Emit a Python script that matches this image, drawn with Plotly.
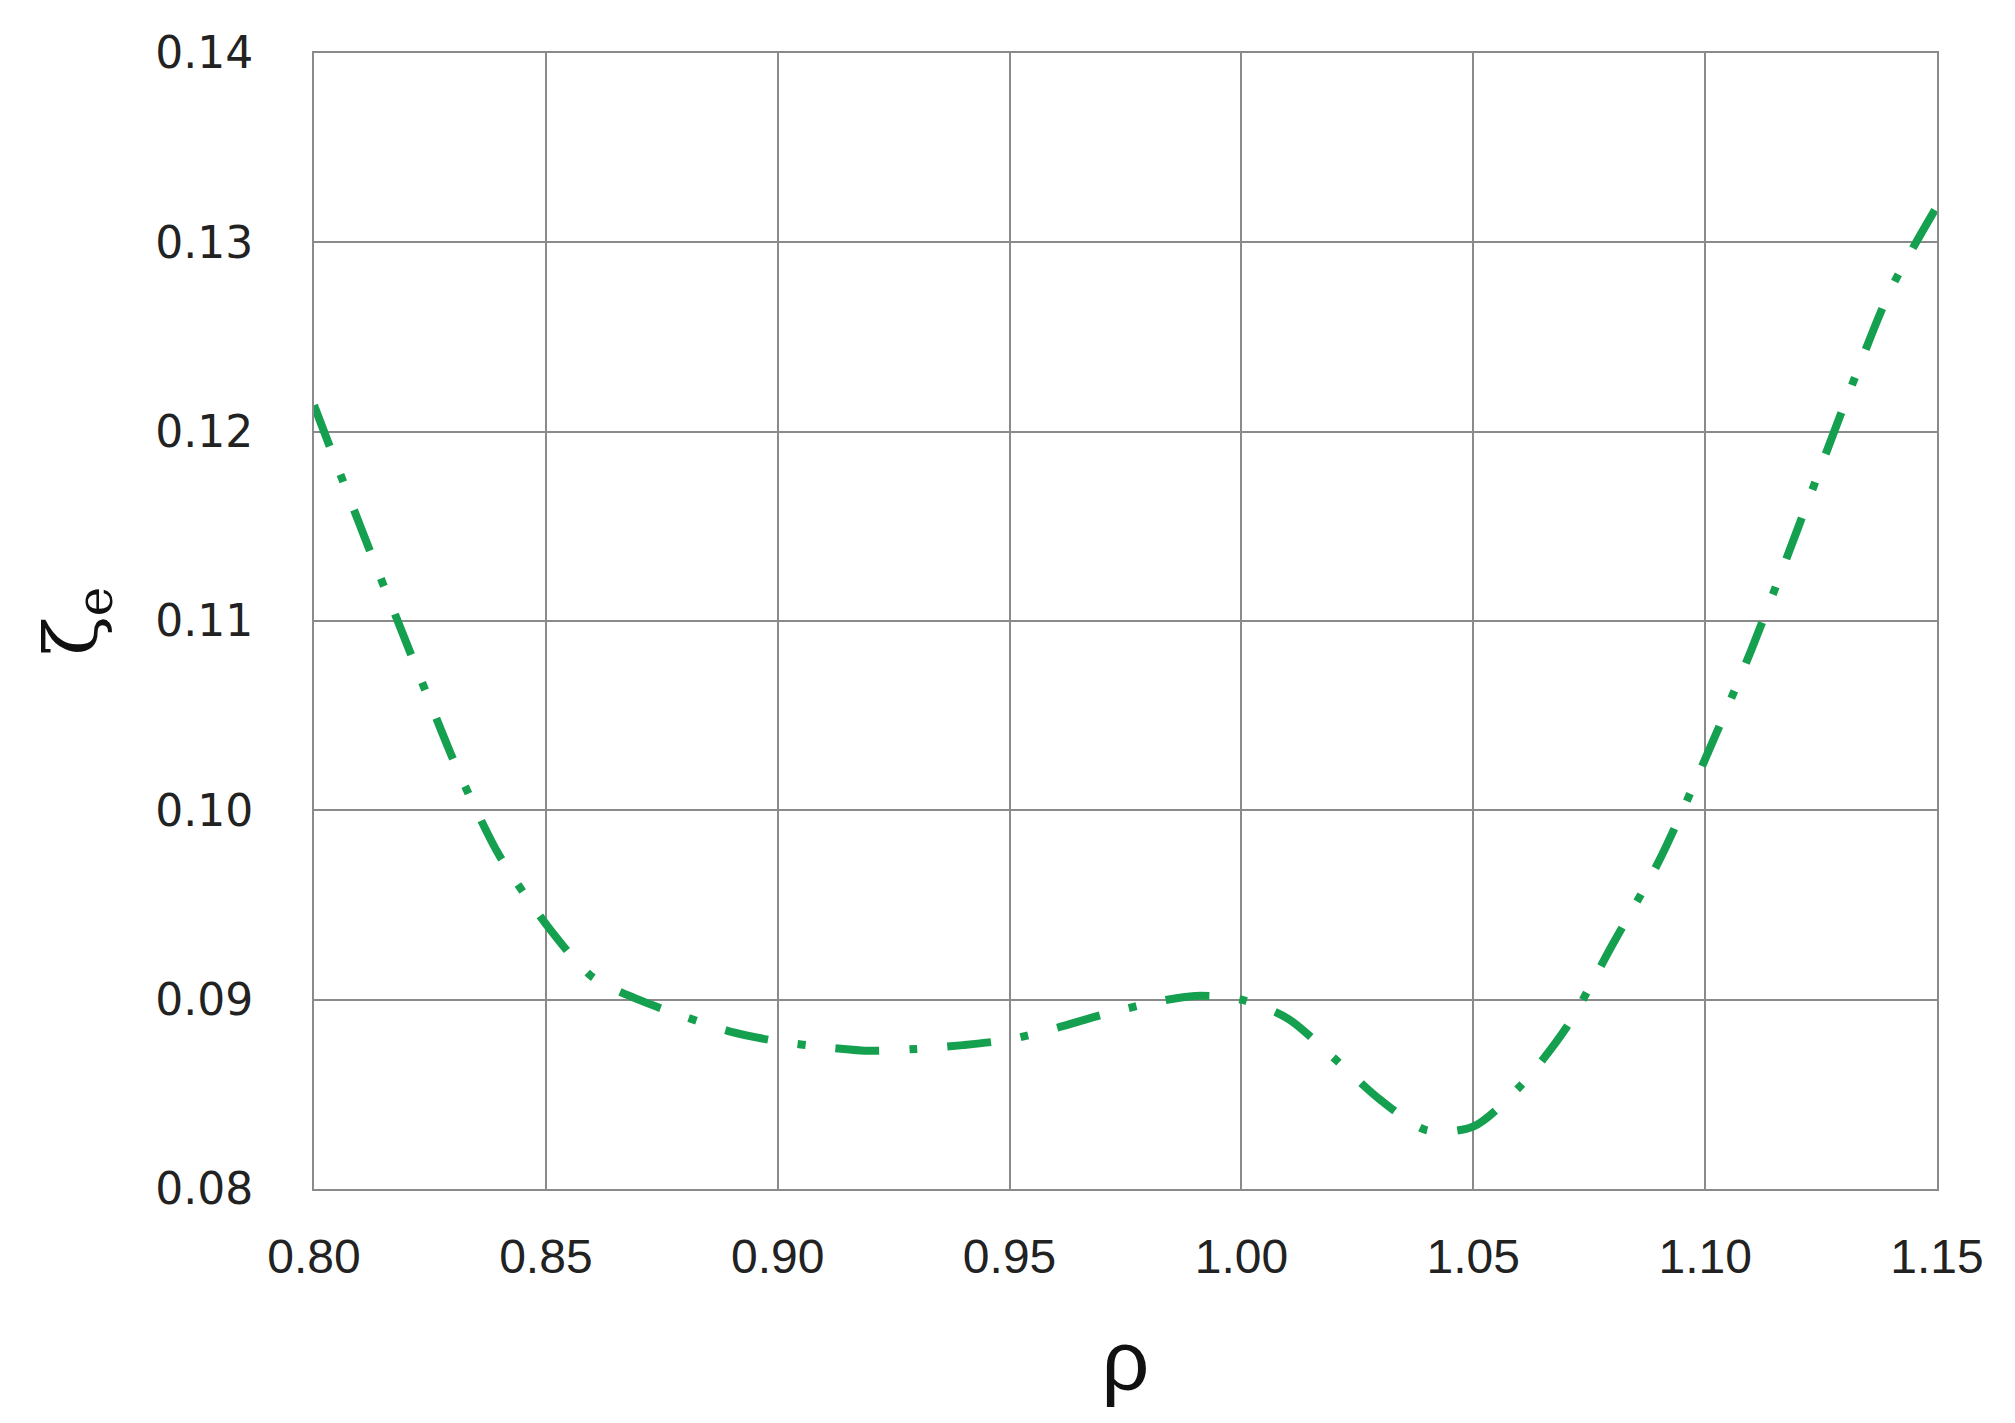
import plotly.graph_objects as go

# rho values and the curve
rho = [0.80, 0.81, 0.82, 0.83, 0.835, 0.84, 0.85, 0.86, 0.87, 0.88, 0.89,
       0.90, 0.91, 0.92, 0.93, 0.94, 0.95, 0.96, 0.97, 0.98, 0.99, 1.00,
       1.01, 1.02, 1.03, 1.04, 1.05, 1.06, 1.07, 1.08, 1.09, 1.10, 1.11,
       1.12, 1.13, 1.14, 1.15]
zeta_e = [0.1214, 0.1150, 0.1088, 0.1027, 0.1000, 0.0976, 0.0940, 0.0912,
          0.0900, 0.0891, 0.0883, 0.0878, 0.0875, 0.0873, 0.0874, 0.0876,
          0.0879, 0.0885, 0.0892, 0.0898, 0.0902, 0.0900, 0.0890, 0.0869,
          0.0847, 0.0831, 0.0833, 0.0854, 0.0885, 0.0929, 0.0973, 0.1027,
          0.1085, 0.1149, 0.1214, 0.1275, 0.1319]

x_ticks = [0.80, 0.85, 0.90, 0.95, 1.00, 1.05, 1.10, 1.15]
y_ticks = [0.08, 0.09, 0.10, 0.11, 0.12, 0.13, 0.14]

fig = go.Figure()
fig.add_trace(go.Scatter(
    x=rho, y=zeta_e, mode="lines",
    line=dict(color="#14a04f", width=8, dash="44px,30px,8px,30px", shape="spline", smoothing=0.8),
    showlegend=False, cliponaxis=False,
))

fig.update_xaxes(
    range=[0.80, 1.15], tickvals=x_ticks, ticktext=["%.2f" % v for v in x_ticks],
    showgrid=True, gridcolor="#8a8a8a", gridwidth=2,
    showline=True, linecolor="#8a8a8a", linewidth=2, mirror=True,
    zeroline=False, ticks="", ticklabelstandoff=24,
    tickfont=dict(family="Liberation Sans", size=48, color="#222"),
    title=dict(text="ρ", font=dict(family="Liberation Sans", size=84, color="#111"), standoff=50),
)
fig.update_yaxes(
    range=[0.08, 0.14], tickvals=y_ticks, ticktext=["%.2f" % v for v in y_ticks],
    showgrid=True, gridcolor="#8a8a8a", gridwidth=2,
    showline=True, linecolor="#8a8a8a", linewidth=2, mirror=True,
    zeroline=False, ticks="", ticklabelstandoff=50,
    tickfont=dict(family="DejaVu Sans", size=44, color="#222"),
    title=dict(text="ζ<sub>e</sub>", font=dict(family="DejaVu Serif", size=72, color="#111"), standoff=34),
)

fig.update_layout(
    width=2015, height=1423,
    margin=dict(l=306, r=86, t=45, b=242),
    plot_bgcolor="white", paper_bgcolor="white",
)

fig.write_html("out.html")
